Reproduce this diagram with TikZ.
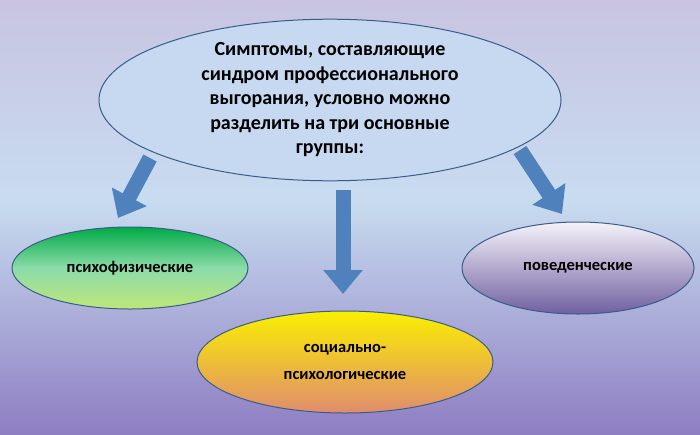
\documentclass[tikz,border=0pt]{standalone}
\usepackage{fontspec}
\setmainfont{Carlito}
\usetikzlibrary{shapes.geometric,arrows.meta}
\definecolor{arrowblue}{HTML}{4F81BD}
\definecolor{arrowedge}{HTML}{385D8A}
\tikzset{
  oval/.style={ellipse, draw=arrowedge, line width=1pt, align=center, inner sep=0pt},
  bigtext/.style={font=\bfseries\fontsize{20}{24.5}\selectfont},
  smalltext/.style={font=\bfseries\fontsize{16.5}{27}\selectfont},
  blockarrow/.style={draw=arrowblue, line width=15pt, -{Triangle[width=38pt,length=24pt]}}
}
\begin{document}
\begin{tikzpicture}[x=1pt,y=-1pt]
\shade[top color={rgb,255:red,200;green,196;blue,226}, bottom color={rgb,255:red,200;green,220;blue,240}] (0,0) rectangle (700,200);
\shade[top color={rgb,255:red,200;green,220;blue,240}, bottom color={rgb,255:red,142;green,126;blue,194}] (0,200) rectangle (700,434);
\useasboundingbox (0,0) rectangle (700,434);
\coordinate (a1s) at (150,158); \coordinate (a1e) at (118,218);
\coordinate (a2s) at (343,190); \coordinate (a2e) at (343,294);
\coordinate (a3s) at (520,150); \coordinate (a3e) at (562,214);
\draw[blockarrow] (a1s) -- (a1e);
\draw[blockarrow] (a2s) -- (a2e);
\draw[blockarrow] (a3s) -- (a3e);
\node[oval, bigtext, fill={rgb,255:red,198;green,217;blue,241}, minimum width=462pt, minimum height=150pt] (top) at (330,100)
  {Симптомы, составляющие\\синдром профессионального\\выгорания, условно можно\\разделить на три основные\\группы:};
\node[oval, smalltext, top color={rgb,255:red,0;green,170;blue,70}, bottom color={rgb,255:red,190;green,230;blue,120}, middle color={rgb,255:red,140;green,220;blue,170}, minimum width=236pt, minimum height=82pt] (left) at (130,268) {психофизические};
\node[oval, smalltext, top color={rgb,255:red,245;green,242;blue,250}, bottom color={rgb,255:red,112;green,96;blue,160}, minimum width=232pt, minimum height=92pt] (right) at (578,268) {поведенческие};
\node[oval, smalltext, top color={rgb,255:red,250;green,240;blue,0}, bottom color={rgb,255:red,224;green,140;blue,110}, minimum width=296pt, minimum height=102pt] (bottom) at (345,362) {социально-\\психологические};
\end{tikzpicture}
\end{document}
